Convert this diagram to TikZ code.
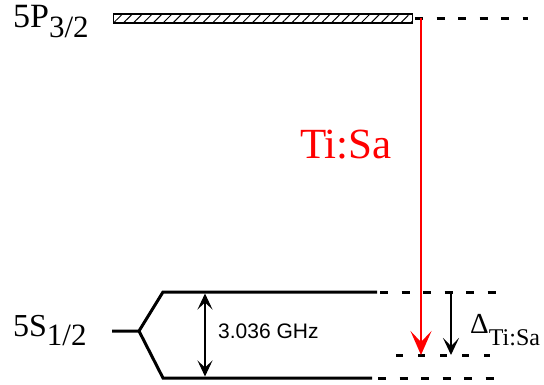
\documentclass[tikz,border=0pt]{standalone}
\usepackage{fontspec}
\setmainfont{Liberation Serif}
\newfontfamily\ghzfont{Liberation Sans}
\usetikzlibrary{arrows.meta,patterns.meta,positioning}
\tikzset{
  >=Stealth,
  lvl/.style={line width=3pt},
  vlvl/.style={line width=3pt, dash pattern=on 8pt off 13.5pt},
  bar/.style={draw, line width=1.2pt, inner sep=0pt, minimum width=299pt, minimum height=9pt,
              pattern={Lines[angle=45,distance=7pt,line width=1pt]}},
  pump/.style={red, line width=2.5pt, -{Stealth[length=24pt,width=21pt,inset=11pt]}},
  gap/.style={line width=1.2pt, {Stealth[length=16pt,width=15pt,inset=7pt]}-{Stealth[length=16pt,width=15pt,inset=7pt]}},
  det/.style={line width=1.2pt, -{Stealth[length=17pt,width=16pt,inset=8pt]}},
  lbl/.style={inner sep=0pt, anchor=base west}
}
% level label: main size, subscript size, drop
\newcommand{\statelbl}[5]{{\fontsize{#3}{#3}\selectfont #1}\raisebox{-#5pt}{\fontsize{#4}{#4}\selectfont #2}}

\begin{document}
\begin{tikzpicture}[x=1pt,y=-1pt]
  \useasboundingbox (0,0) rectangle (544,384);
  % --- Excited state 5P_{3/2} ---
  \node[bar, anchor=west] (P) at (113,18.5) {};
  \coordinate (pEnd) at (528,18.5);
  \draw[vlvl, dash phase=-2pt] (P.east) -- (pEnd);
  \node[lbl] (Plbl) at (13,27) {\statelbl{5P}{3/2}{34}{31}{10}};

  % --- Ground state 5S_{1/2} and hyperfine levels ---
  \coordinate (s0) at (112,331);
  \coordinate (s1) at (139,331);
  \coordinate (f2L) at (163,292);
  \coordinate (f2R) at (377,292);
  \coordinate (f1L) at (163,378);
  \coordinate (f1R) at (372,378);
  \draw[lvl] (s0) -- (s1) -- (f2L) -- (f2R);
  \draw[lvl] (s1) -- (f1L) -- (f1R);
  \coordinate (f2End) at (497,292);
  \coordinate (f1End) at (497,378);
  \draw[vlvl] (380,292) -- (f2End);
  \draw[vlvl] (378,378) -- (f1End);
  \node[lbl] (Slbl) at (13,336) {\statelbl{5S}{1/2}{32}{31}{9}};

  % --- Hyperfine splitting ---
  \coordinate (hfT) at (205,293.5);
  \coordinate (hfB) at (205,376.5);
  \draw[gap] (hfT) -- (hfB);
  \node[lbl] (hf) at (218,338) {\ghzfont\fontsize{21}{21}\selectfont 3.036 GHz};

  % --- Virtual level and Ti:Sa transition ---
  \coordinate (vL) at (396,355);
  \coordinate (vR) at (490,355);
  \draw[line width=3pt, dash pattern=on 7pt off 15pt] (vL) -- (vR);
  \coordinate (pumpTop) at (421,18);
  \coordinate (pumpBot) at (421,355);
  \draw[pump] (pumpTop) -- (pumpBot);
  \node[lbl, red] (ts) at (300,158) {\fontsize{43}{43}\selectfont Ti:Sa};

  % --- Detuning ---
  \coordinate (dT) at (451,292);
  \coordinate (dB) at (451,355);
  \draw[det] (dT) -- (dB);
  \node[lbl] (dlbl) at (470,333) {\statelbl{Δ}{Ti:Sa}{29}{24}{12}};
\end{tikzpicture}
\end{document}
